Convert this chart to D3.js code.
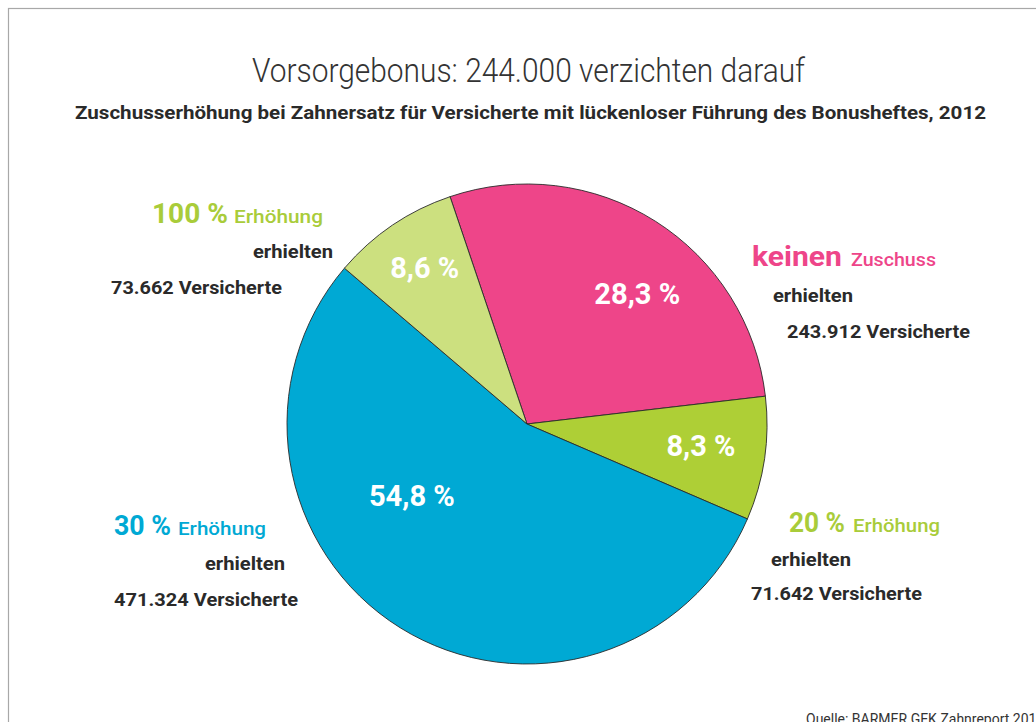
<!DOCTYPE html>
<html><head><meta charset="utf-8">
<script src="https://cdn.jsdelivr.net/npm/d3@7"></script>
<style>html,body{margin:0;padding:0;background:#fff;overflow:hidden}svg{display:block}</style>
</head><body>
<svg id="c" width="1036" height="722"></svg>
<script>
const categories = ["keinen Zuschuss", "20 % Erhöhung", "30 % Erhöhung", "100 % Erhöhung"];
const versicherte = [243912, 71642, 471324, 73662];
const percentLabels = ["28,3 %", "8,3 %", "54,8 %", "8,6 %"];
const headWords = ["keinen", "20 %", "30 %", "100 %"];
const tailWords = ["Zuschuss", "Erhöhung", "Erhöhung", "Erhöhung"];
const countLabels = ["243.912 Versicherte", "71.642 Versicherte", "471.324 Versicherte", "73.662 Versicherte"];
const colors = ["#ee4589", "#aecf36", "#00a9d4", "#cce07f"];
const labelColors = ["#ee4589", "#a9cc3a", "#00a9d4", "#a9cc3a"];

const svg = d3.select("#c");
const font = "Roboto, 'Liberation Sans', sans-serif";
const dark = "#2a2a2a";

svg.append("rect").attr("x", 8.5).attr("y", 8.5).attr("width", 1100).attr("height", 800)
  .attr("fill", "none").attr("stroke", "#a8a8a8").attr("stroke-width", 1.2);

function txt(s, x, y, size, weight, color, len, anchor) {
  const t = svg.append("text").attr("x", x).attr("y", y).text(s)
    .attr("font-family", font).attr("font-size", size).attr("font-weight", weight)
    .attr("fill", color).attr("text-anchor", anchor || "start");
  if (len) t.attr("textLength", len).attr("lengthAdjust", "spacingAndGlyphs");
  return t;
}

txt("Vorsorgebonus: 244.000 verzichten darauf", 252, 82, 33, 300, "#333", 553);
txt("Zuschusserhöhung bei Zahnersatz für Versicherte mit lückenloser Führung des Bonusheftes, 2012", 75, 119, 18, 700, dark, 911);

const cx = 527, cy = 424, r = 240;
const a0 = -18.7 * Math.PI / 180;
const pie = d3.pie().sort(null).startAngle(a0).endAngle(a0 + 2 * Math.PI);
const arcs = pie(versicherte);
const arc = d3.arc().innerRadius(0).outerRadius(r);
const g = svg.append("g").attr("transform", `translate(${cx},${cy})`);
g.selectAll("path").data(arcs).join("path")
  .attr("d", arc).attr("fill", (d, i) => colors[i])
  .attr("stroke", "#2a2a2a").attr("stroke-width", 0.9).attr("stroke-linejoin", "round");

// in-slice percent labels: radius fraction and angle shift (deg) from slice middle
const labelR = [0.713, 0.73, 0.565, 0.78];
const labelShift = [7.8, -1.3, 26.2, 1.0];
const labelPos = arcs.map((d, i) => d3.pointRadial((d.startAngle + d.endAngle) / 2 + labelShift[i] * Math.PI / 180, r * labelR[i]));
const labelLen = [86, 69, 86, 69];
g.selectAll("text.pct").data(arcs).join("text").attr("class", "pct")
  .attr("x", (d, i) => labelPos[i][0]).attr("y", (d, i) => labelPos[i][1] + 10.5)
  .attr("text-anchor", "middle").attr("font-family", font).attr("font-weight", 700)
  .attr("font-size", 29).attr("fill", "#fff")
  .attr("textLength", (d, i) => labelLen[i]).attr("lengthAdjust", "spacingAndGlyphs")
  .text((d, i) => percentLabels[i]);

// outside labels: [headX, headLen, tailX, tailLen, y1, erhX, y2, countX, countLen, y3]
const outer = [
  [752, 90, 851, 85, 266, 773, 302, 787, 183, 338],
  [789, 56, 853, 87, 532, 771, 566, 751, 171, 600],
  [114, 57, 178, 88, 535, 205, 570, 114, 184, 606],
  [152, 76, 234, 89, 223, 253, 258, 111, 171, 294]
];
outer.forEach((o, i) => {
  txt(headWords[i], o[0], o[4], 27, 700, labelColors[i], o[1]);
  txt(tailWords[i], o[2], o[4], 19, 500, labelColors[i], o[3]);
  txt("erhielten", o[5], o[6], 18, 700, dark, 80);
  txt(countLabels[i], o[7], o[9], 18, 700, dark, o[8]);
});

txt("Quelle: BARMER GEK Zahnreport 2014", 806, 724, 14, 400, "#333");
</script>
</body></html>
